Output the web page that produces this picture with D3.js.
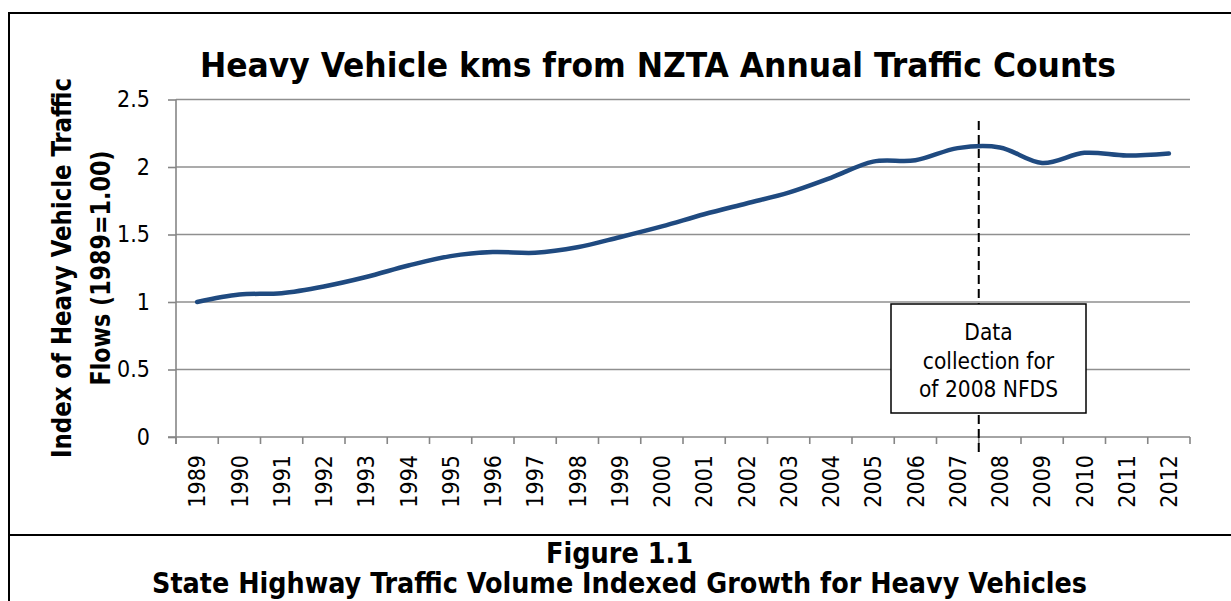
<!DOCTYPE html>
<html>
<head>
<meta charset="utf-8">
<script src="https://cdn.jsdelivr.net/npm/d3@7"></script>
<style>
  body { margin: 0; background: #ffffff; }
  svg { display: block; }
</style>
</head>
<body>
<div id="chart"></div>
<script>
// Index values (1989 = 1.00)
const years = ["1989", "1990", "1991", "1992", "1993", "1994", "1995", "1996",
  "1997", "1998", "1999", "2000", "2001", "2002", "2003", "2004", "2005", "2006",
  "2007", "2008", "2009", "2010", "2011", "2012"];
const indexValues = [1.00, 1.055, 1.065, 1.115, 1.185, 1.27, 1.34, 1.37,
  1.365, 1.405, 1.48, 1.56, 1.65, 1.73, 1.81, 1.92, 2.04, 2.05,
  2.14, 2.145, 2.03, 2.105, 2.085, 2.10];
const yTicks = [0, 0.5, 1, 1.5, 2, 2.5];
const yTickLabels = ["0", "0.5", "1", "1.5", "2", "2.5"];
const markerYear = "2008"; // dashed line sits at the start of this category
const noteLines = ["Data", "collection for", "of 2008 NFDS"];

const titleText = "Heavy Vehicle kms from NZTA Annual Traffic Counts";
const yTitleLines = ["Index of Heavy Vehicle Traffic", "Flows (1989=1.00)"];
const captionLines = ["Figure 1.1", "State Highway Traffic Volume Indexed Growth for Heavy Vehicles"];

const W = 1231, H = 601;
const plot = { left: 176, right: 1190, top: 99.5, bottom: 437 };
const font = "'DejaVu Sans Condensed', 'DejaVu Sans', sans-serif";

const svg = d3.select("#chart").append("svg")
  .attr("width", W)
  .attr("height", H)
  .style("font-family", font);

svg.append("rect").attr("width", W).attr("height", H).attr("fill", "#ffffff");

const x = d3.scaleBand().domain(years).range([plot.left, plot.right]);
const y = d3.scaleLinear().domain([0, 2.5]).range([plot.bottom, plot.top]);

// frame lines
const frame = svg.append("g").attr("stroke", "#000").attr("stroke-width", 2);
frame.append("line").attr("x1", 9).attr("x2", W).attr("y1", 13).attr("y2", 13);
frame.append("line").attr("x1", 9).attr("x2", 9).attr("y1", 12).attr("y2", H);
frame.append("line").attr("x1", 9).attr("x2", W).attr("y1", 535).attr("y2", 535);

// gridlines
svg.append("g")
  .selectAll("line")
  .data(yTicks.filter(d => d > 0))
  .join("line")
  .attr("x1", plot.left)
  .attr("x2", plot.right)
  .attr("y1", d => y(d))
  .attr("y2", d => y(d))
  .attr("stroke", "#8f8f8f")
  .attr("stroke-width", 1.6);

// y axis
const yAxis = svg.append("g")
  .attr("transform", `translate(${plot.left},0)`)
  .call(d3.axisLeft(y).tickValues(yTicks).tickSize(8).tickPadding(18)
    .tickFormat((d, i) => yTickLabels[i]));
yAxis.select(".domain").attr("stroke", "#868686").attr("stroke-width", 1.6)
  .attr("d", `M0,${plot.top}V${plot.bottom + 7}`);
yAxis.selectAll(".tick line").attr("stroke", "#868686").attr("stroke-width", 1.6);
yAxis.selectAll(".tick text")
  .attr("fill", "#000")
  .style("font-size", "23px")
  .style("font-family", font);

// x axis: labels at centres, ticks on category boundaries
const xAxis = svg.append("g")
  .attr("transform", `translate(0,${plot.bottom})`)
  .call(d3.axisBottom(x).tickSize(0));
xAxis.select(".domain").attr("stroke", "#868686").attr("stroke-width", 1.6)
  .attr("d", `M${plot.left - 8},0H${plot.right}`);
xAxis.selectAll(".tick text")
  .attr("transform", "rotate(-90)")
  .attr("text-anchor", "end")
  .attr("x", -18)
  .attr("y", 0)
  .attr("dy", "0.36em")
  .attr("fill", "#000")
  .style("font-size", "23px")
  .style("font-family", font);

const boundaries = years.map(d => x(d)).concat([plot.right]);
xAxis.append("g")
  .selectAll("line")
  .data(boundaries)
  .join("line")
  .attr("x1", d => d)
  .attr("x2", d => d)
  .attr("y1", 0)
  .attr("y2", 7)
  .attr("stroke", "#868686")
  .attr("stroke-width", 1.6);

// marker line for the 2008 NFDS collection
const markerX = x(markerYear);
svg.append("line")
  .attr("x1", markerX)
  .attr("x2", markerX)
  .attr("y1", 121)
  .attr("y2", 456)
  .attr("stroke", "#000")
  .attr("stroke-width", 2)
  .attr("stroke-dasharray", "9,5");

// the series
const line = d3.line()
  .x((d, i) => x(years[i]) + x.bandwidth() / 2)
  .y(d => y(d))
  .curve(d3.curveCatmullRom.alpha(0));

svg.append("path")
  .datum(indexValues)
  .attr("d", line)
  .attr("fill", "none")
  .attr("stroke", "#1f4a80")
  .attr("stroke-width", 4.5)
  .attr("stroke-linecap", "round");

// annotation box
const note = svg.append("g");
note.append("rect")
  .attr("x", 891)
  .attr("y", 304)
  .attr("width", 195)
  .attr("height", 109)
  .attr("fill", "#fff")
  .attr("stroke", "#000")
  .attr("stroke-width", 1.5);
note.selectAll("text")
  .data(noteLines)
  .join("text")
  .attr("x", 988.5)
  .attr("y", (d, i) => 340 + i * 28.5)
  .attr("text-anchor", "middle")
  .style("font-size", "22.5px")
  .text(d => d);

// helper: bold text squeezed to a measured width
function fitText(sel, width) {
  const len = sel.node().getComputedTextLength();
  if (len > 0) sel.attr("textLength", width).attr("lengthAdjust", "spacingAndGlyphs");
}

// title
const title = svg.append("text")
  .attr("x", 658)
  .attr("y", 77)
  .attr("text-anchor", "middle")
  .style("font-size", "34px")
  .style("font-weight", "bold")
  .text(titleText);
fitText(title, 916);

// y axis title
const yTitleX = [71, 110];
const yTitleW = [380, 235];
yTitleLines.forEach((t, i) => {
  const yt = svg.append("text")
    .attr("transform", `translate(${yTitleX[i]},268) rotate(-90)`)
    .attr("text-anchor", "middle")
    .style("font-size", "27px")
    .style("font-weight", "bold")
    .text(t);
  fitText(yt, yTitleW[i]);
});

// caption under the chart
const capY = [563, 593];
const capW = [147, 935];
captionLines.forEach((t, i) => {
  const ct = svg.append("text")
    .attr("x", 619.5)
    .attr("y", capY[i])
    .attr("text-anchor", "middle")
    .style("font-size", "28px")
    .style("font-weight", "bold")
    .text(t);
  fitText(ct, capW[i]);
});
</script>
</body>
</html>
